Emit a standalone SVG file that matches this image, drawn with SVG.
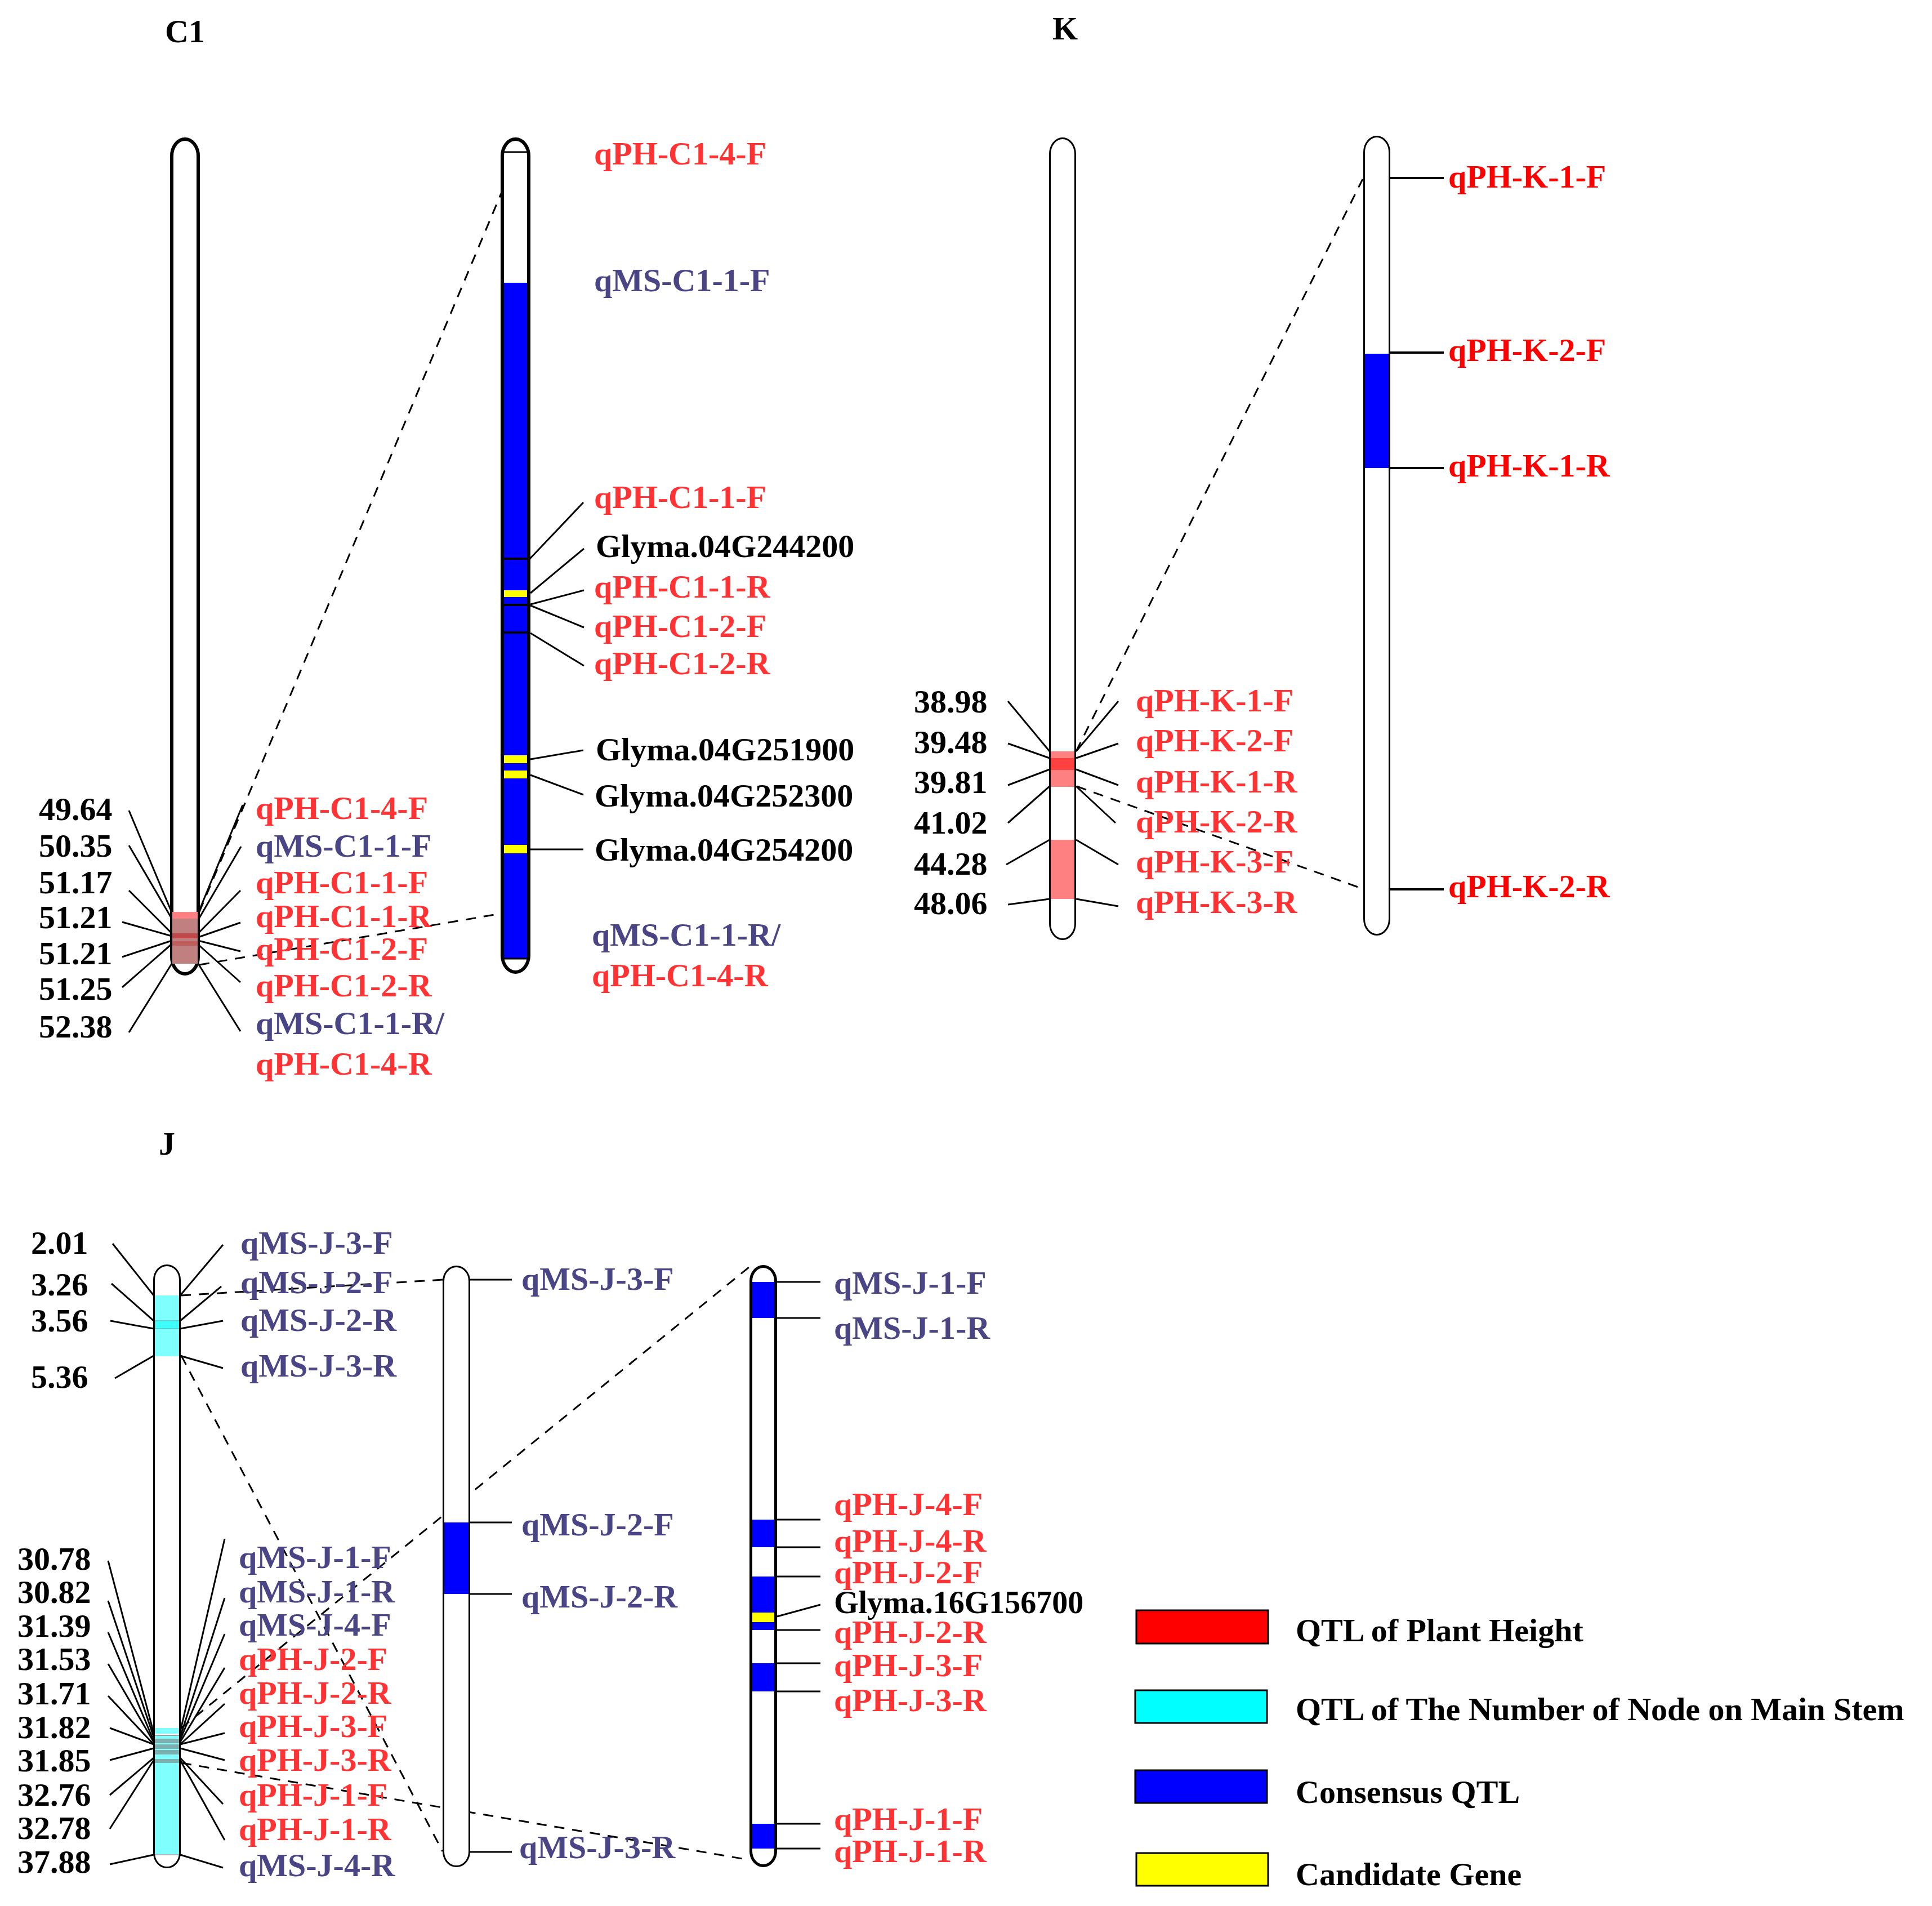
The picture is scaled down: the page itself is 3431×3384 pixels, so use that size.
<svg xmlns="http://www.w3.org/2000/svg" width="3431" height="3384" viewBox="0 0 3431 3384">
<style>
.t{font-family:"Liberation Serif","Times New Roman",serif;font-weight:bold;font-size:58px}
.ph{fill:#FF3333}.ms{fill:#4A4585}.bk{fill:#000}.pk{fill:#FF0000}
.ln{stroke:#000;stroke-width:3;fill:none}
.ln4{stroke:#000;stroke-width:4;fill:none}
.ds{stroke:#000;stroke-width:3;stroke-dasharray:18 14;fill:none}
.thick{fill:none;stroke:#000;stroke-width:6}
.thin{fill:none;stroke:#000;stroke-width:3}
.mid{fill:none;stroke:#000;stroke-width:5}
.bg{fill:#fff;stroke:none}
.lg{stroke:#000;stroke-width:3}
</style>
<rect width="3431" height="3384" fill="#fff"/>

<g id="titles">
<text class="t bk" x="293" y="75">C1</text>
<text class="t bk" x="1869" y="70">K</text>
<text class="t bk" x="282" y="2050">J</text>
</g>

<g id="connectors">
<line class="ln" x1="229" y1="1439" x2="305" y2="1620"/>
<line class="ln" x1="229" y1="1501" x2="305" y2="1631"/>
<line class="ln" x1="229" y1="1581" x2="305" y2="1657"/>
<line class="ln" x1="217" y1="1637" x2="305" y2="1662"/>
<line class="ln" x1="217" y1="1699" x2="305" y2="1670"/>
<line class="ln" x1="217" y1="1753" x2="305" y2="1676"/>
<line class="ln" x1="229" y1="1833" x2="305" y2="1711"/>
<line class="ln" x1="431" y1="1429" x2="352" y2="1621"/>
<line class="ln" x1="428" y1="1503" x2="352" y2="1633"/>
<line class="ln" x1="427" y1="1581" x2="352" y2="1657"/>
<line class="ln" x1="427" y1="1638" x2="352" y2="1664"/>
<line class="ln" x1="427" y1="1689" x2="352" y2="1670"/>
<line class="ln" x1="427" y1="1744" x2="352" y2="1677"/>
<line class="ln" x1="427" y1="1831" x2="352" y2="1711"/>
<line class="ln" x1="1036" y1="892" x2="941" y2="992"/>
<line class="ln" x1="1037" y1="974" x2="942" y2="1053"/>
<line class="ln" x1="1037" y1="1048" x2="942" y2="1073"/>
<line class="ln" x1="1037" y1="1114" x2="942" y2="1075"/>
<line class="ln" x1="1037" y1="1182" x2="942" y2="1124"/>
<line class="ln" x1="1036" y1="1332" x2="942" y2="1348"/>
<line class="ln" x1="1036" y1="1411" x2="942" y2="1376"/>
<line class="ln" x1="1036" y1="1508" x2="942" y2="1508"/>
<path class="ds" d="M354 1619 L891 341"/>
<path class="ds" d="M354 1713 L890 1622"/>
<line class="ln" x1="1790" y1="1245" x2="1864" y2="1334"/>
<line class="ln" x1="1790" y1="1320" x2="1864" y2="1346"/>
<line class="ln" x1="1790" y1="1394" x2="1864" y2="1366"/>
<line class="ln" x1="1790" y1="1461" x2="1864" y2="1396"/>
<line class="ln" x1="1787" y1="1535" x2="1864" y2="1491"/>
<line class="ln" x1="1790" y1="1606" x2="1864" y2="1596"/>
<line class="ln" x1="1986" y1="1245" x2="1911" y2="1334"/>
<line class="ln" x1="1986" y1="1320" x2="1911" y2="1346"/>
<line class="ln" x1="1986" y1="1394" x2="1911" y2="1366"/>
<line class="ln" x1="1981" y1="1461" x2="1911" y2="1396"/>
<line class="ln" x1="1986" y1="1535" x2="1911" y2="1491"/>
<line class="ln" x1="1986" y1="1609" x2="1911" y2="1596"/>
<line class="ln4" x1="2421" y1="316" x2="2564" y2="316"/>
<line class="ln4" x1="2421" y1="626" x2="2564" y2="626"/>
<line class="ln4" x1="2421" y1="831" x2="2564" y2="831"/>
<line class="ln4" x1="2421" y1="1579" x2="2564" y2="1579"/>
<path class="ds" d="M1911 1334 L2420 318"/>
<path class="ds" d="M1912 1396 L2420 1578"/>
<line class="ln" x1="200" y1="2208" x2="273" y2="2300"/>
<line class="ln" x1="198" y1="2279" x2="273" y2="2345"/>
<line class="ln" x1="196" y1="2345" x2="273" y2="2359"/>
<line class="ln" x1="204" y1="2447" x2="273" y2="2407"/>
<line class="ln" x1="396" y1="2210" x2="320" y2="2300"/>
<line class="ln" x1="393" y1="2284" x2="320" y2="2345"/>
<line class="ln" x1="396" y1="2345" x2="320" y2="2359"/>
<line class="ln" x1="396" y1="2429" x2="320" y2="2407"/>
<line class="ln" x1="192" y1="2771" x2="273" y2="3077"/>
<line class="ln" x1="192" y1="2842" x2="273" y2="3084"/>
<line class="ln" x1="192" y1="2898" x2="273" y2="3091"/>
<line class="ln" x1="192" y1="2954" x2="273" y2="3093"/>
<line class="ln" x1="192" y1="3011" x2="273" y2="3097"/>
<line class="ln" x1="195" y1="3068" x2="273" y2="3097"/>
<line class="ln" x1="195" y1="3125" x2="273" y2="3104"/>
<line class="ln" x1="195" y1="3187" x2="273" y2="3121"/>
<line class="ln" x1="195" y1="3247" x2="273" y2="3125"/>
<line class="ln" x1="195" y1="3310" x2="273" y2="3293"/>
<line class="ln" x1="399" y1="2732" x2="320" y2="3075"/>
<line class="ln" x1="399" y1="2837" x2="320" y2="3084"/>
<line class="ln" x1="399" y1="2901" x2="320" y2="3089"/>
<line class="ln" x1="399" y1="2961" x2="320" y2="3093"/>
<line class="ln" x1="399" y1="3025" x2="320" y2="3097"/>
<line class="ln" x1="399" y1="3077" x2="320" y2="3097"/>
<line class="ln" x1="399" y1="3125" x2="320" y2="3104"/>
<line class="ln" x1="396" y1="3203" x2="320" y2="3121"/>
<line class="ln" x1="399" y1="3267" x2="320" y2="3125"/>
<line class="ln" x1="396" y1="3316" x2="320" y2="3293"/>
<line class="ln" x1="787" y1="2272" x2="909" y2="2272"/>
<line class="ln" x1="787" y1="2703" x2="909" y2="2703"/>
<line class="ln" x1="787" y1="2830" x2="909" y2="2830"/>
<line class="ln" x1="787" y1="3288" x2="909" y2="3288"/>
<line class="ln" x1="1333" y1="2276" x2="1457" y2="2276"/>
<line class="ln" x1="1333" y1="2340" x2="1457" y2="2340"/>
<line class="ln" x1="1333" y1="2698" x2="1457" y2="2698"/>
<line class="ln" x1="1333" y1="2747" x2="1457" y2="2747"/>
<line class="ln" x1="1333" y1="2799" x2="1457" y2="2799"/>
<line class="ln" x1="1380" y1="2870" x2="1457" y2="2849"/>
<line class="ln" x1="1333" y1="2894" x2="1457" y2="2894"/>
<line class="ln" x1="1333" y1="2953" x2="1457" y2="2953"/>
<line class="ln" x1="1333" y1="3003" x2="1457" y2="3003"/>
<line class="ln" x1="1333" y1="3238" x2="1457" y2="3238"/>
<line class="ln" x1="1333" y1="3282" x2="1457" y2="3282"/>
<path class="ds" d="M321 2300 L787 2272"/>
<path class="ds" d="M322 2407 L786 3287"/>
<path class="ds" d="M322 3068 L1330 2250"/>
<path class="ds" d="M322 3130 L1330 3302"/>
</g>

<g id="chr-C1-left">
<rect class="bg" x="305" y="247" width="47" height="1482" rx="23.5" ry="30"/>
<rect class="thick" x="305" y="247" width="47" height="1482" rx="23.5" ry="30"/>
<rect x="306" y="1619" width="45" height="12" fill="#FF8080"/>
<rect x="306" y="1631" width="45" height="80" fill="#C08080"/>
<rect x="306" y="1657" width="45" height="9" fill="#C04848"/>
<rect x="306" y="1671" width="45" height="8" fill="#C05C5C"/>
</g>

<g id="chr-C1-right">
<rect class="bg" x="892" y="247" width="47" height="1479" rx="23.5" ry="30"/>
<rect x="893" y="502" width="45" height="1200" fill="#0000FF"/>
<rect x="893" y="1048" width="45" height="12" fill="#FFFF00"/>
<rect x="893" y="1341" width="45" height="14" fill="#FFFF00"/>
<rect x="893" y="1368" width="45" height="14" fill="#FFFF00"/>
<rect x="893" y="1500" width="45" height="15" fill="#FFFF00"/>
<line class="ln" x1="892" y1="270" x2="939" y2="270"/>
<line class="ln4" x1="892" y1="992" x2="939" y2="992"/>
<line class="ln4" x1="892" y1="1074" x2="939" y2="1074"/>
<line class="ln4" x1="892" y1="1123" x2="939" y2="1123"/>
<line class="ln" x1="892" y1="1702" x2="939" y2="1702"/>
<rect class="thick" x="892" y="247" width="47" height="1479" rx="23.5" ry="30"/>
</g>

<g id="labels-C1">
<text class="t bk" x="69" y="1456">49.64</text>
<text class="t bk" x="69" y="1521">50.35</text>
<text class="t bk" x="69" y="1586">51.17</text>
<text class="t bk" x="69" y="1648">51.21</text>
<text class="t bk" x="69" y="1712">51.21</text>
<text class="t bk" x="69" y="1775">51.25</text>
<text class="t bk" x="69" y="1842">52.38</text>
<text class="t ph" x="454" y="1454">qPH-C1-4-F</text>
<text class="t ms" x="454" y="1521">qMS-C1-1-F</text>
<text class="t ph" x="454" y="1586">qPH-C1-1-F</text>
<text class="t ph" x="454" y="1646">qPH-C1-1-R</text>
<text class="t ph" x="454" y="1704">qPH-C1-2-F</text>
<text class="t ph" x="454" y="1769">qPH-C1-2-R</text>
<text class="t ms" x="454" y="1836">qMS-C1-1-R/</text>
<text class="t ph" x="454" y="1908">qPH-C1-4-R</text>
<text class="t ph" x="1055" y="292">qPH-C1-4-F</text>
<text class="t ms" x="1055" y="517">qMS-C1-1-F</text>
<text class="t ph" x="1055" y="902">qPH-C1-1-F</text>
<text class="t bk" x="1058" y="989">Glyma.04G244200</text>
<text class="t ph" x="1055" y="1061">qPH-C1-1-R</text>
<text class="t ph" x="1055" y="1131">qPH-C1-2-F</text>
<text class="t ph" x="1055" y="1197">qPH-C1-2-R</text>
<text class="t bk" x="1058" y="1350">Glyma.04G251900</text>
<text class="t bk" x="1056" y="1432">Glyma.04G252300</text>
<text class="t bk" x="1056" y="1528">Glyma.04G254200</text>
<text class="t ms" x="1051" y="1679">qMS-C1-1-R/</text>
<text class="t ph" x="1051" y="1751">qPH-C1-4-R</text>
</g>

<g id="chr-K-left">
<rect class="bg" x="1864.5" y="245.5" width="45" height="1422" rx="22.5" ry="28"/>
<rect x="1865" y="1334" width="44" height="63" fill="#FF8080"/>
<rect x="1865" y="1346" width="44" height="21" fill="#FF4040"/>
<rect x="1865" y="1491" width="44" height="105" fill="#FF8080"/>
<rect class="thin" x="1864.5" y="245.5" width="45" height="1422" rx="22.5" ry="28"/>
</g>

<g id="chr-K-right">
<rect class="bg" x="2422.5" y="242.5" width="45" height="1417" rx="22.5" ry="28"/>
<rect x="2423" y="628" width="44" height="203" fill="#0000FF"/>
<rect class="thin" x="2422.5" y="242.5" width="45" height="1417" rx="22.5" ry="28"/>
</g>

<g id="labels-K">
<text class="t bk" x="1623" y="1265">38.98</text>
<text class="t bk" x="1623" y="1337">39.48</text>
<text class="t bk" x="1623" y="1408">39.81</text>
<text class="t bk" x="1623" y="1480">41.02</text>
<text class="t bk" x="1623" y="1553">44.28</text>
<text class="t bk" x="1623" y="1623">48.06</text>
<text class="t ph" x="2017" y="1263">qPH-K-1-F</text>
<text class="t ph" x="2017" y="1334">qPH-K-2-F</text>
<text class="t ph" x="2017" y="1407">qPH-K-1-R</text>
<text class="t ph" x="2017" y="1478">qPH-K-2-R</text>
<text class="t ph" x="2017" y="1549">qPH-K-3-F</text>
<text class="t ph" x="2017" y="1621">qPH-K-3-R</text>
<text class="t pk" x="2572" y="333">qPH-K-1-F</text>
<text class="t pk" x="2572" y="641">qPH-K-2-F</text>
<text class="t pk" x="2572" y="846">qPH-K-1-R</text>
<text class="t pk" x="2572" y="1593">qPH-K-2-R</text>
</g>

<g id="chr-J-left">
<rect class="bg" x="273.5" y="2246.5" width="46" height="1069" rx="23" ry="26"/>
<rect x="275" y="2300" width="44" height="108" fill="#80FFFF"/>
<rect x="275" y="2345" width="44" height="14" fill="#40FFFF" stroke="#50BFBF" stroke-width="1.5"/>
<rect x="275" y="3068" width="44" height="10" fill="#80FFFF"/>
<rect x="275" y="3082" width="44" height="211" fill="#80FFFF"/>
<line x1="275" y1="3081" x2="319" y2="3081" stroke="#A0A0A0" stroke-width="2"/>
<rect x="275" y="3087" width="44" height="8" fill="#7FAFAF"/>
<rect x="275" y="3097" width="44" height="8" fill="#7FAFAF"/>
<rect x="275" y="3107" width="44" height="8" fill="#7FAFAF"/>
<rect x="275" y="3123" width="44" height="7" fill="#7FAFAF"/>
<line x1="275" y1="3293" x2="319" y2="3293" stroke="#C0A0A0" stroke-width="1.5"/>
<rect class="thin" x="273.5" y="2246.5" width="46" height="1069" rx="23" ry="26"/>
</g>

<g id="chr-J-middle">
<rect class="bg" x="787.5" y="2248.5" width="46" height="1065" rx="23" ry="26"/>
<rect x="789" y="2703" width="43" height="127" fill="#0000FF"/>
<rect class="thin" x="787.5" y="2248.5" width="46" height="1065" rx="23" ry="26"/>
</g>

<g id="chr-J-right">
<rect class="bg" x="1333.5" y="2248.5" width="44" height="1064" rx="22" ry="26"/>
<rect x="1335" y="2276" width="41" height="64" fill="#0000FF"/>
<rect x="1335" y="2698" width="41" height="49" fill="#0000FF"/>
<rect x="1335" y="2799" width="41" height="95" fill="#0000FF"/>
<rect x="1335" y="2863" width="41" height="17" fill="#FFFF00"/>
<rect x="1335" y="2953" width="41" height="50" fill="#0000FF"/>
<rect x="1335" y="3238" width="41" height="44" fill="#0000FF"/>
<rect class="mid" x="1333.5" y="2248.5" width="44" height="1064" rx="22" ry="26"/>
</g>

<g id="labels-J">
<text class="t bk" x="55" y="2226">2.01</text>
<text class="t bk" x="55" y="2300">3.26</text>
<text class="t bk" x="55" y="2364">3.56</text>
<text class="t bk" x="55" y="2464">5.36</text>
<text class="t bk" x="31" y="2787">30.78</text>
<text class="t bk" x="31" y="2846">30.82</text>
<text class="t bk" x="31" y="2906">31.39</text>
<text class="t bk" x="31" y="2965">31.53</text>
<text class="t bk" x="31" y="3026">31.71</text>
<text class="t bk" x="31" y="3086">31.82</text>
<text class="t bk" x="31" y="3145">31.85</text>
<text class="t bk" x="31" y="3206">32.76</text>
<text class="t bk" x="31" y="3265">32.78</text>
<text class="t bk" x="31" y="3325">37.88</text>
<text class="t ms" x="427" y="2226">qMS-J-3-F</text>
<text class="t ms" x="427" y="2296">qMS-J-2-F</text>
<text class="t ms" x="427" y="2363">qMS-J-2-R</text>
<text class="t ms" x="427" y="2444">qMS-J-3-R</text>
<text class="t ms" x="424" y="2784">qMS-J-1-F</text>
<text class="t ms" x="424" y="2845">qMS-J-1-R</text>
<text class="t ms" x="424" y="2904">qMS-J-4-F</text>
<text class="t ph" x="424" y="2965">qPH-J-2-F</text>
<text class="t ph" x="424" y="3025">qPH-J-2-R</text>
<text class="t ph" x="424" y="3084">qPH-J-3-F</text>
<text class="t ph" x="424" y="3144">qPH-J-3-R</text>
<text class="t ph" x="424" y="3206">qPH-J-1-F</text>
<text class="t ph" x="424" y="3267">qPH-J-1-R</text>
<text class="t ms" x="424" y="3331">qMS-J-4-R</text>
<text class="t ms" x="926" y="2290">qMS-J-3-F</text>
<text class="t ms" x="926" y="2726">qMS-J-2-F</text>
<text class="t ms" x="926" y="2854">qMS-J-2-R</text>
<text class="t ms" x="922" y="3299">qMS-J-3-R</text>
<text class="t ms" x="1481" y="2297">qMS-J-1-F</text>
<text class="t ms" x="1481" y="2377">qMS-J-1-R</text>
<text class="t ph" x="1481" y="2690">qPH-J-4-F</text>
<text class="t ph" x="1481" y="2755">qPH-J-4-R</text>
<text class="t ph" x="1481" y="2811">qPH-J-2-F</text>
<text class="t bk" x="1481" y="2864" style="font-size:56px">Glyma.16G156700</text>
<text class="t ph" x="1481" y="2917">qPH-J-2-R</text>
<text class="t ph" x="1481" y="2976">qPH-J-3-F</text>
<text class="t ph" x="1481" y="3038">qPH-J-3-R</text>
<text class="t ph" x="1481" y="3249">qPH-J-1-F</text>
<text class="t ph" x="1481" y="3306">qPH-J-1-R</text>
</g>

<g id="legend">
<rect class="lg" x="2018" y="2859" width="234" height="59" fill="#FF0000"/>
<rect class="lg" x="2016" y="3001" width="234" height="58" fill="#00FFFF"/>
<rect class="lg" x="2016" y="3143" width="234" height="58" fill="#0000FF"/>
<rect class="lg" x="2018" y="3290" width="234" height="58" fill="#FFFF00"/>
<text class="t bk" x="2301" y="2914">QTL of Plant Height</text>
<text class="t bk" x="2301" y="3054">QTL of The Number of Node on Main Stem</text>
<text class="t bk" x="2301" y="3201">Consensus QTL</text>
<text class="t bk" x="2301" y="3347">Candidate Gene</text>
</g>
</svg>
